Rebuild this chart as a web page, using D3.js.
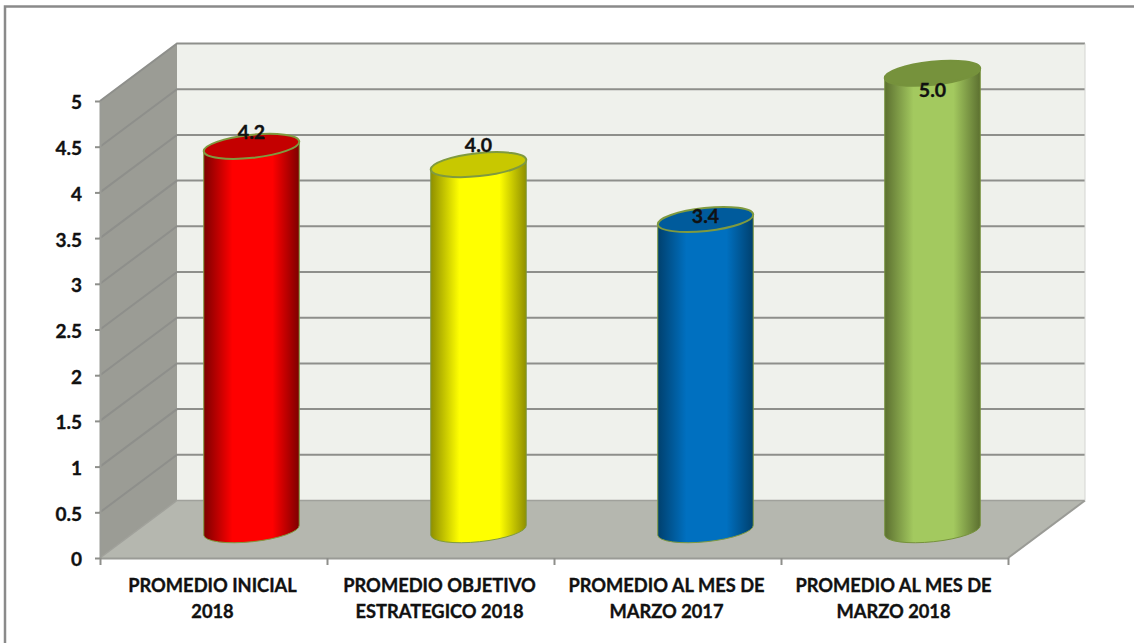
<!DOCTYPE html>
<html>
<head>
<meta charset="utf-8">
<script src="https://cdn.jsdelivr.net/npm/d3@7"></script>
<style>
  html, body { margin: 0; padding: 0; background: #fff; overflow: hidden; }
  text { font-family: Lato, "Open Sans", sans-serif; font-weight: 700; fill: #111; stroke: #111; stroke-width: 0.35px; }
</style>
</head>
<body>
<svg width="1134" height="643"></svg>
<script>
// data
const categories = [
  "PROMEDIO INICIAL|2018",
  "PROMEDIO OBJETIVO|ESTRATEGICO 2018",
  "PROMEDIO AL MES DE|MARZO 2017",
  "PROMEDIO AL MES DE|MARZO 2018"
];
const values = [4.2, 4.0, 3.4, 5.0];
const valueLabels = ["4.2", "4.0", "3.4", "5.0"];
const yTicks = [0, 0.5, 1, 1.5, 2, 2.5, 3, 3.5, 4, 4.5, 5];

const bodyDark = ["#7d0000", "#8f8f00", "#00406e", "#5c7030"];
const bodyLight = ["#ff0000", "#ffff00", "#0070c0", "#a3c95f"];
const capColor = ["#c40000", "#c8c800", "#005b9c", "#76923c"];
const capStroke = ["#7f9a3f", "#7f9a3f", "#7f9a3f", "#76923c"];

const svg = d3.select("svg");

// front plane of the fake 3d box
const plotLeft = 100, plotRight = 1008, plotBottom = 558, plotTop = 101;
const depthX = 77, depthY = -57.5;

const x = d3.scaleBand().domain(categories).range([plotLeft, plotRight]);
const y = d3.scaleLinear().domain([0, 5]).range([plotBottom, plotTop]);

// outer frame
svg.append("path")
  .attr("d", "M5,643V6.5H1134")
  .attr("fill", "none")
  .attr("stroke", "#8a8a8a")
  .attr("stroke-width", 2.5);

// walls
const poly = pts => "M" + pts.map(p => p.join(",")).join("L") + "Z";
svg.append("path")
  .attr("d", poly([[plotLeft + depthX, y(5) + depthY], [plotRight + depthX, y(5) + depthY],
                   [plotRight + depthX, plotBottom + depthY], [plotLeft + depthX, plotBottom + depthY]]))
  .attr("fill", "#eff1ec");
svg.append("path")
  .attr("d", poly([[plotLeft, y(5)], [plotLeft + depthX, y(5) + depthY],
                   [plotLeft + depthX, plotBottom + depthY], [plotLeft, plotBottom]]))
  .attr("fill", "#9b9c95");
svg.append("path")
  .attr("d", poly([[plotLeft, plotBottom], [plotLeft + depthX, plotBottom + depthY],
                   [plotRight + depthX, plotBottom + depthY], [plotRight, plotBottom]]))
  .attr("fill", "#b5b7af");

// grid lines, wall diagonal + back wall
svg.append("g").selectAll("path")
  .data(yTicks)
  .join("path")
  .attr("d", d => `M${plotLeft},${y(d)}L${plotLeft + depthX},${y(d) + depthY}H${plotRight + depthX}`)
  .attr("fill", "none")
  .attr("stroke", d => d === 0 ? "#a0a19b" : "#8e8f8b")
  .attr("stroke-width", d => d === 0 ? 1.5 : 2);

// floor front edge and back wall right edge
svg.append("path")
  .attr("d", `M${plotRight + depthX},${plotBottom + depthY}L${plotRight},${plotBottom}`)
  .attr("fill", "none").attr("stroke", "#9a9b96").attr("stroke-width", 2);
svg.append("path")
  .attr("d", `M${plotRight + depthX},${y(5) + depthY}V${plotBottom + depthY}`)
  .attr("fill", "none").attr("stroke", "#d4d5d2").attr("stroke-width", 1);

// axes
const yAxis = svg.append("g")
  .attr("transform", `translate(${plotLeft},0)`)
  .call(d3.axisLeft(y).tickValues(yTicks).tickFormat(d => d).tickSize(5).tickPadding(13).tickSizeOuter(0));
yAxis.selectAll("text").style("font-size", "19px").attr("dy", "0.42em");

const edges = d3.scaleLinear().domain([0, categories.length]).range([plotLeft, plotRight]);
const xAxis = svg.append("g")
  .attr("transform", `translate(0,${plotBottom})`)
  .call(d3.axisBottom(edges).ticks(categories.length).tickFormat("").tickSize(7).tickSizeOuter(0));

svg.selectAll(".domain").attr("stroke", "#9a9b96").attr("stroke-width", 2);
svg.selectAll(".tick line").attr("stroke", "#8e8f8b").attr("stroke-width", 2);

// category labels, two lines each
const catLabels = svg.append("g").selectAll("text")
  .data(categories)
  .join("text")
  .attr("text-anchor", "middle")
  .style("font-size", "18.3px");
catLabels.selectAll("tspan")
  .data(d => d.split("|").map(t => ({ t, c: d })))
  .join("tspan")
  .attr("x", d => x(d.c) + x.bandwidth() / 2 - 1)
  .attr("y", (d, i) => 592 + i * 26)
  .text(d => d.t);

// cylinders stand half way into the depth of the box
const rx = 48, ry = 11.5, tilt = -6;
const cx = i => x(categories[i]) + x.bandwidth() / 2 + depthX / 2 - 0.5;
const cy = v => y(v) + depthY / 2 + 1;
const ex = rx * Math.cos(tilt * Math.PI / 180);
const ey = rx * Math.sin(tilt * Math.PI / 180);

const defs = svg.append("defs");
values.forEach((v, i) => {
  const g = defs.append("linearGradient").attr("id", "body" + i);
  g.append("stop").attr("offset", "0%").attr("stop-color", bodyDark[i]);
  g.append("stop").attr("offset", "30%").attr("stop-color", bodyLight[i]);
  g.append("stop").attr("offset", "72%").attr("stop-color", bodyLight[i]);
  g.append("stop").attr("offset", "100%").attr("stop-color", bodyDark[i]);
});

const bars = svg.append("g").selectAll("g")
  .data(values)
  .join("g");

bars.append("path")
  .attr("d", (v, i) => {
    const c = cx(i);
    return `M${c - ex},${cy(v) - ey}` +
      `L${c - ex},${cy(0) - ey}` +
      `A${rx},${ry} ${tilt} 0 0 ${c + ex},${cy(0) + ey}` +
      `L${c + ex},${cy(v) + ey}Z`;
  })
  .attr("fill", (v, i) => `url(#body${i})`)
  .attr("stroke", (v, i) => capStroke[i])
  .attr("stroke-width", 1);

bars.append("ellipse")
  .attr("rx", rx)
  .attr("ry", ry)
  .attr("transform", (v, i) => `translate(${cx(i)},${cy(v)}) rotate(${tilt})`)
  .attr("fill", (v, i) => capColor[i])
  .attr("stroke", (v, i) => capStroke[i])
  .attr("stroke-width", 2);

// excel put these wherever it liked, so each gets its own nudge
const labelNudge = [-7, -13, 4, 24];
bars.append("text")
  .attr("x", (v, i) => cx(i))
  .attr("y", (v, i) => cy(v) + labelNudge[i])
  .attr("text-anchor", "middle")
  .style("font-size", "19.5px")
  .text((v, i) => valueLabels[i]);
</script>
</body>
</html>
